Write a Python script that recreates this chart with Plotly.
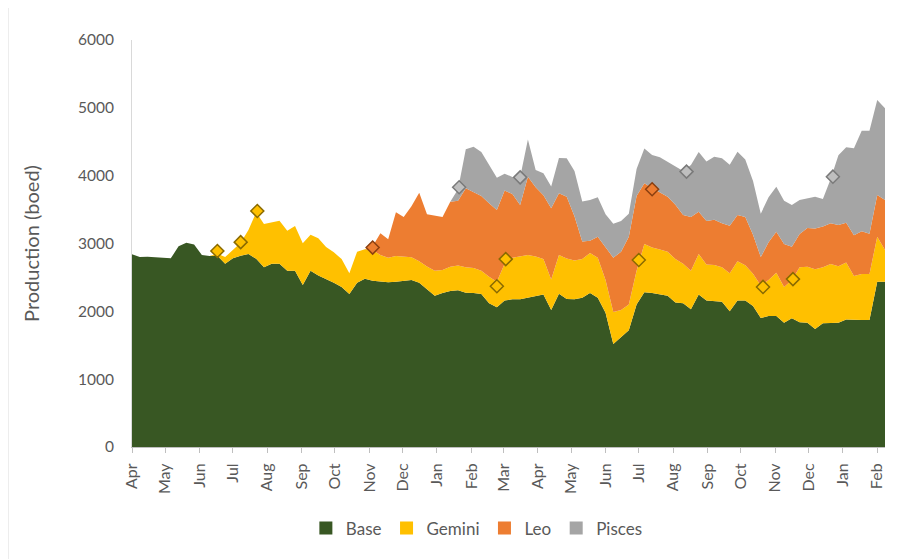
import pandas as pd
import plotly.graph_objects as go

# Weekly dates
dates = pd.date_range("2015-04-01", periods=98, freq="7D")

base = [2840, 2800, 2805, 2800, 2786, 2781, 2960, 3010, 2985, 2830,
        2815, 2820, 2700, 2781, 2820, 2845, 2775, 2650, 2700, 2700,
        2600, 2599, 2390, 2599, 2530, 2480, 2420, 2360, 2255, 2420,
        2480, 2450, 2437, 2430, 2437, 2450, 2462, 2420, 2330, 2230,
        2270, 2300, 2310, 2275, 2270, 2255, 2118, 2059, 2160, 2177,
        2177, 2200, 2216, 2250, 2019, 2260, 2180, 2177, 2200, 2270,
        2200, 1980, 1520, 1620, 1720, 2100, 2280, 2270, 2250, 2230,
        2130, 2120, 2030, 2250, 2160, 2150, 2140, 2000, 2160, 2160,
        2080, 1900, 1930, 1931, 1833, 1897, 1840, 1833, 1740, 1823,
        1830, 1833, 1880, 1873, 1873, 1873, 2437, 2437]

gemini = [0, 0, 0, 0, 0, 0, 0, 0, 0, 0,
          0, 30, 100, 120, 190, 355, 685, 637, 610, 636,
          589, 659, 613, 531, 546, 470, 450, 410, 306, 460,
          434, 454, 393, 360, 378, 350, 334, 320, 330, 370,
          339, 358, 365, 375, 370, 345, 393, 378, 540, 613,
          633, 630, 594, 520, 451, 570, 600, 573, 570, 590,
          590, 482, 470, 400, 380, 500, 713, 670, 660, 649,
          640, 580, 570, 595, 530, 533, 510, 560, 580, 520,
          475, 480, 532, 639, 527, 563, 810, 825, 880, 827,
          868, 832, 840, 647, 677, 677, 663, 467]

leo = [0] * 31 + [56, 320, 272, 645, 590, 754, 1009, 770, 810,
                  781, 958, 955, 1163, 1120, 1100, 1081, 1057, 1080, 940,
                  757, 1155, 1020, 940, 1048, 910, 910, 650, 260, 180,
                  310, 491, 800, 860, 1000, 1100, 894, 880, 840, 811,
                  800, 720, 790, 624, 640, 667, 650, 700, 680, 710,
                  575, 420, 558, 604, 633, 493, 490, 572, 600, 600,
                  599, 608, 587, 600, 630, 595, 615, 737]

pisces = [0] * 42 + [170, 577, 667, 650, 565, 476, 250, 250,
                     408, 550, 253, 324, 322, 520, 566, 670, 590, 600,
                     581, 477, 500, 450, 340, 400, 513, 484, 520, 510,
                     560, 650, 767, 881, 880, 930, 956, 900, 934, 850,
                     790, 640, 660, 664, 637, 614, 501, 440, 470, 405,
                     653, 1027, 1113, 1283, 1483, 1518, 1400, 1352]

# Event markers
gem_mark_dates = ["2015-06-17", "2015-07-08", "2015-07-23", "2016-02-24",
                  "2016-03-03", "2016-07-01", "2016-10-21", "2016-11-17"]
gem_mark_vals = [2890, 3020, 3480, 2370, 2770, 2757, 2360, 2475]
leo_mark_dates = ["2015-11-04", "2016-07-13"]
leo_mark_vals = [2940, 3800]
pis_mark_dates = ["2016-01-21", "2016-03-16", "2016-08-13", "2016-12-23"]
pis_mark_vals = [3830, 3975, 4060, 3985]

names = ["Base", "Gemini", "Leo", "Pisces"]
series = [base, gemini, leo, pisces]
colors = ["#385723", "#FFC000", "#ED7D31", "#A5A5A5"]
edge = ["#1E3012", "#8A6A00", "#8B3F10", "#7A7A7A"]

fig = go.Figure()
for n, s, c in zip(names, series, colors):
    fig.add_trace(go.Scatter(
        x=dates, y=s, name=n, stackgroup="one", mode="lines",
        line=dict(width=0, color=c), fillcolor=c, showlegend=False,
        legendgroup=n,
    ))

for d, v, c, e in [(gem_mark_dates, gem_mark_vals, colors[1], edge[1]),
                   (leo_mark_dates, leo_mark_vals, colors[2], edge[2]),
                   (pis_mark_dates, pis_mark_vals, "#BFBFBF", edge[3])]:
    fig.add_trace(go.Scatter(
        x=pd.to_datetime(d), y=v, mode="markers", showlegend=False,
        marker=dict(symbol="diamond", size=10, color=c,
                    line=dict(color=e, width=1.5)),
    ))

# legend entries with square swatches
for n, c in zip(names, colors):
    fig.add_trace(go.Scatter(
        x=[None], y=[None], mode="markers", name=n, legendgroup=n,
        marker=dict(symbol="square", size=13, color=c),
    ))

font_family = "Lato, 'Open Sans', sans-serif"
fig.update_layout(
    width=919, height=559,
    margin=dict(l=124, r=42, t=32, b=120),
    paper_bgcolor="white", plot_bgcolor="white",
    font=dict(family=font_family, color="#595959", size=14),
    showlegend=True,
    legend=dict(orientation="h", x=0.458, xanchor="center", y=-0.2,
                yanchor="middle", font=dict(size=17, color="#595959"),
                traceorder="normal", itemwidth=30),
    shapes=[dict(type="rect", xref="paper", yref="paper",
                 x0=-0.1647, x1=1.036, y0=-0.28, y1=1.1,
                 line=dict(color="#D9D9D9", width=1), layer="below")],
)
fig.update_xaxes(
    type="date", range=[dates[0], dates[-1]],
    tickformat="%b", dtick="M1", tick0="2015-04-01", tickangle=-90,
    ticks="outside", ticklen=5, tickcolor="#BFBFBF",
    showline=True, linecolor="#BFBFBF", linewidth=1,
    showgrid=False, zeroline=False, automargin=False,
    ticklabelstandoff=4,
    tickfont=dict(size=16, color="#595959"),
)
fig.update_yaxes(
    range=[0, 6000], dtick=1000, showgrid=False, zeroline=False,
    showline=True, linecolor="#D9D9D9", linewidth=1, ticks="",
    automargin=False, ticklabelstandoff=14,
    tickfont=dict(size=15.5, color="#595959"),
    title=dict(text="Production (boed)", font=dict(size=20, color="#595959"),
               standoff=32),
)

fig.write_html("out.html")
